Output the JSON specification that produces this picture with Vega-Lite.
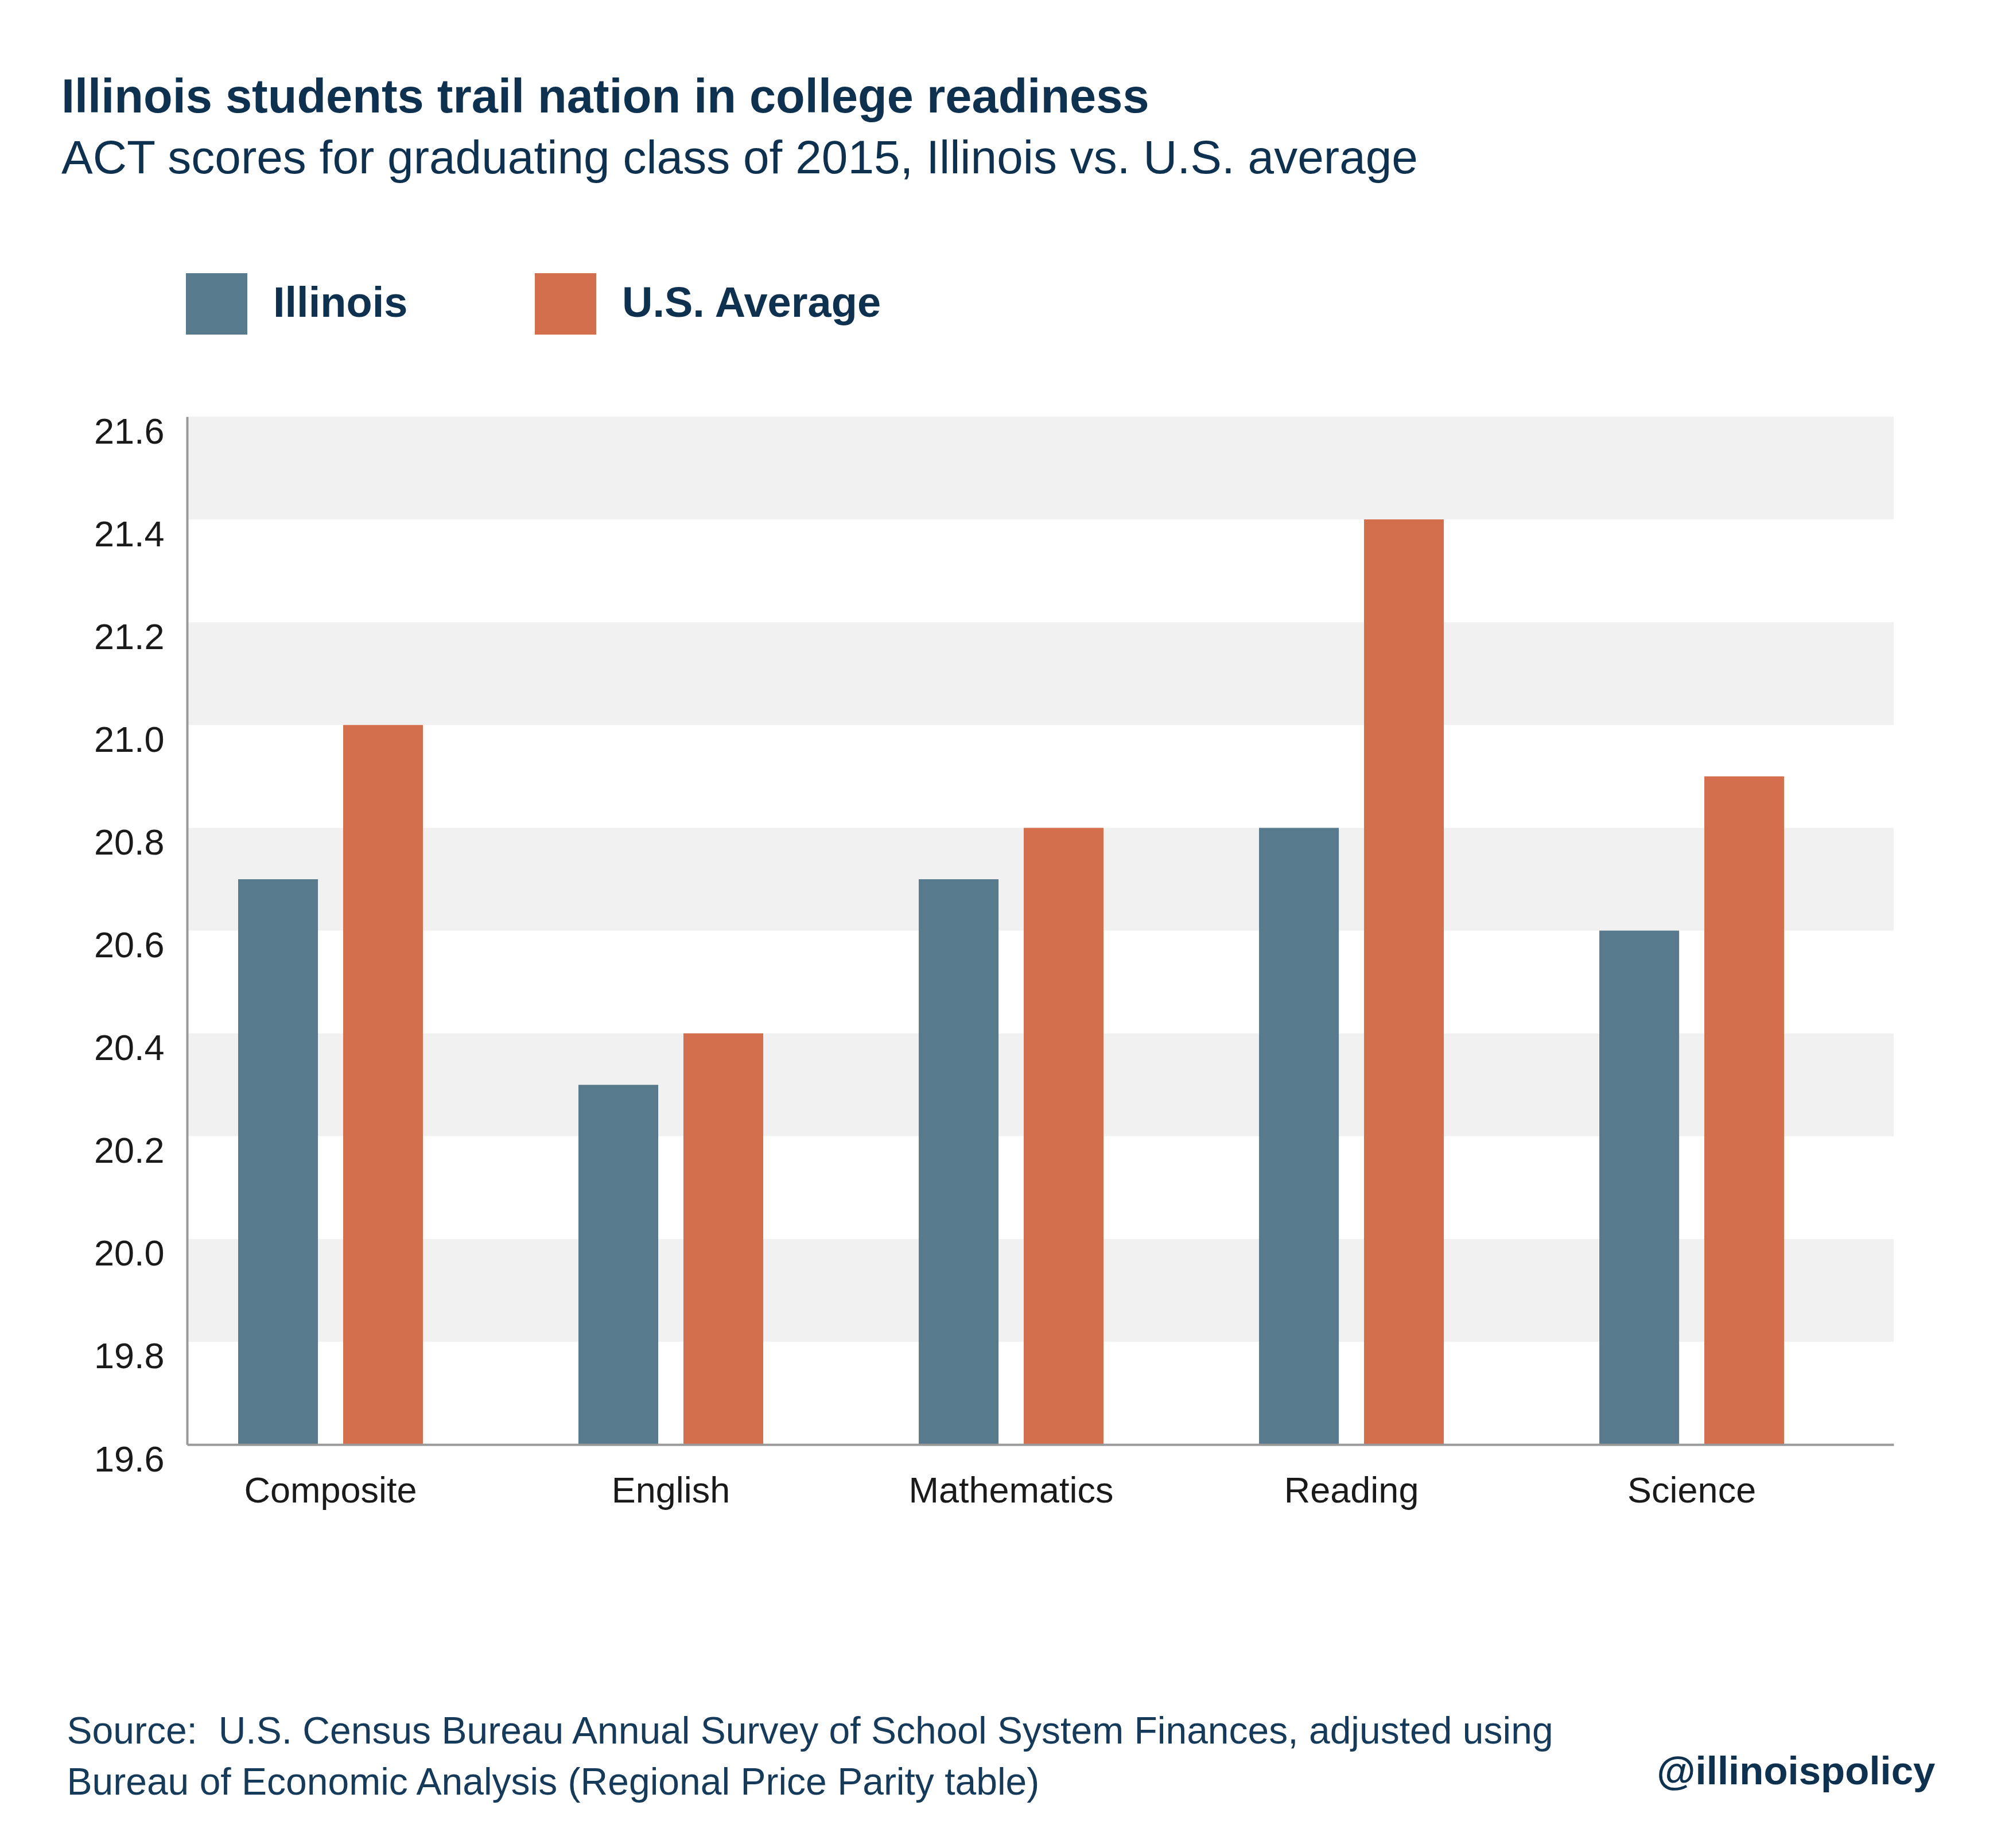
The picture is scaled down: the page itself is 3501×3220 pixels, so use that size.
{
  "$schema": "https://vega.github.io/schema/vega-lite/v6.json",
  "width": 2974,
  "height": 1791,
  "autosize": "none",
  "padding": {"left": 326, "top": 726, "right": 201, "bottom": 703},
  "background": "white",
  "config": {"view": {"stroke": null}, "font": "Liberation Sans"},
  "title": {
    "text": "Illinois students trail nation in college readiness",
    "subtitle": "ACT scores for graduating class of 2015, Illinois vs. U.S. average",
    "anchor": "start",
    "frame": "group",
    "dx": -219,
    "offset": 158,
    "font": "Liberation Sans",
    "subtitleFont": "Liberation Sans",
    "fontSize": 83,
    "subtitleFontSize": 82,
    "fontWeight": "bold",
    "subtitleFontWeight": "normal",
    "color": "#0f3150",
    "subtitleColor": "#0f3150",
    "subtitlePadding": 24
  },
  "datasets": {
    "bands": [
      {"lo": 21.4, "hi": 21.6},
      {"lo": 21.0, "hi": 21.2},
      {"lo": 20.6, "hi": 20.8},
      {"lo": 20.2, "hi": 20.4},
      {"lo": 19.8, "hi": 20.0}
    ],
    "scores": [
      {"subject": "Composite", "group": "Illinois", "score": 20.7},
      {"subject": "Composite", "group": "U.S. Average", "score": 21.0},
      {"subject": "English", "group": "Illinois", "score": 20.3},
      {"subject": "English", "group": "U.S. Average", "score": 20.4},
      {"subject": "Mathematics", "group": "Illinois", "score": 20.7},
      {"subject": "Mathematics", "group": "U.S. Average", "score": 20.8},
      {"subject": "Reading", "group": "Illinois", "score": 20.8},
      {"subject": "Reading", "group": "U.S. Average", "score": 21.4},
      {"subject": "Science", "group": "Illinois", "score": 20.6},
      {"subject": "Science", "group": "U.S. Average", "score": 20.9}
    ]
  },
  "layer": [
    {
      "data": {"name": "bands"},
      "mark": {"type": "rect", "color": "#f1f1f1"},
      "encoding": {
        "y": {
          "field": "lo",
          "type": "quantitative",
          "scale": {"domain": [19.6, 21.6], "nice": false, "zero": false},
          "axis": {
            "title": "@illinoispolicy",
            "titleAngle": 0,
            "titleX": 3046,
            "titleY": 2382,
            "titleAlign": "right",
            "titleBaseline": "alphabetic",
            "titleFontSize": 69,
            "titleFontWeight": "bold",
            "titleColor": "#0f3150",
            "titleFont": "Liberation Sans",
            "values": [19.6, 19.8, 20.0, 20.2, 20.4, 20.6, 20.8, 21.0, 21.2, 21.4, 21.6],
            "format": ".1f",
            "labelFont": "Liberation Sans",
            "labelFontSize": 63,
            "labelColor": "#1a1a1a",
            "labelBaseline": "middle",
            "labelOffset": 27,
            "labelPadding": 40,
            "labelFlush": false,
            "labelOverlap": false,
            "ticks": false,
            "grid": false,
            "domainColor": "#999999",
            "domainWidth": 4,
            "zindex": 2
          }
        },
        "y2": {"field": "hi"}
      }
    },
    {
      "data": {"name": "scores"},
      "mark": {"type": "bar", "clip": true},
      "encoding": {
        "x": {
          "field": "subject",
          "type": "nominal",
          "sort": ["Composite", "English", "Mathematics", "Reading", "Science"],
          "scale": {"paddingInner": 0.457, "paddingOuter": 0.236, "align": 0.318},
          "axis": {
            "title": ["Source:\u00a0 U.S. Census Bureau Annual Survey of School System Finances, adjusted using", "Bureau of Economic Analysis (Regional Price Parity table)"],
            "titleX": -210,
            "titleY": 520,
            "titleAlign": "left",
            "titleAnchor": "start",
            "titleBaseline": "alphabetic",
            "titleFont": "Liberation Sans",
            "titleFontSize": 66,
            "titleFontWeight": "normal",
            "titleColor": "#163a5a",
            "titleLineHeight": 89,
            "titleLimit": 4000,
            "labelAngle": 0,
            "labelFont": "Liberation Sans",
            "labelFontSize": 63,
            "labelColor": "#1a1a1a",
            "labelPadding": 50,
            "labelLimit": 1000,
            "ticks": false,
            "domainColor": "#999999",
            "domainWidth": 4,
            "zindex": 2
          }
        },
        "xOffset": {
          "field": "group",
          "type": "nominal",
          "scale": {"paddingInner": 0.24, "paddingOuter": 0}
        },
        "y": {
          "field": "score",
          "type": "quantitative",
          "axis": {
            "title": "@illinoispolicy",
            "titleAngle": 0,
            "titleX": 3046,
            "titleY": 2382,
            "titleAlign": "right",
            "titleBaseline": "alphabetic",
            "titleFontSize": 69,
            "titleFontWeight": "bold",
            "titleColor": "#0f3150",
            "titleFont": "Liberation Sans",
            "values": [19.6, 19.8, 20.0, 20.2, 20.4, 20.6, 20.8, 21.0, 21.2, 21.4, 21.6],
            "format": ".1f",
            "labelFont": "Liberation Sans",
            "labelFontSize": 63,
            "labelColor": "#1a1a1a",
            "labelBaseline": "middle",
            "labelOffset": 27,
            "labelPadding": 40,
            "labelFlush": false,
            "labelOverlap": false,
            "ticks": false,
            "grid": false,
            "domainColor": "#999999",
            "domainWidth": 4,
            "zindex": 2
          }
        },
        "color": {
          "field": "group",
          "type": "nominal",
          "scale": {"domain": ["Illinois", "U.S. Average"], "range": ["#577a8c", "#d46f4d"]},
          "legend": {
            "orient": "none",
            "legendX": -2,
            "legendY": -250,
            "direction": "horizontal",
            "title": null,
            "symbolType": "square",
            "symbolSize": 11449,
            "symbolStrokeWidth": 0,
            "symbolOpacity": 1,
            "labelFont": "Liberation Sans",
            "labelFontSize": 74,
            "labelFontWeight": "bold",
            "labelColor": "#0f3150",
            "labelOffset": 45,
            "labelLimit": 1000,
            "columnPadding": 221,
            "padding": 0
          }
        }
      }
    }
  ]
}
